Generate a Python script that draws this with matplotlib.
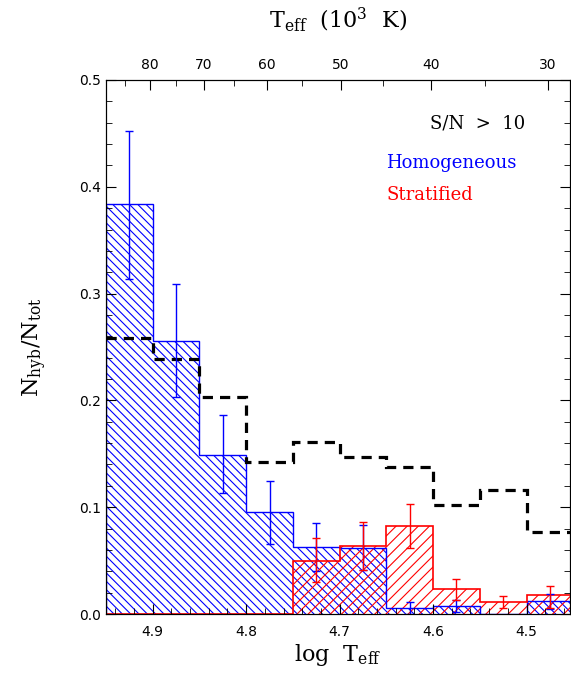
import numpy as np
import matplotlib
matplotlib.use("Agg")
import matplotlib.pyplot as plt
from matplotlib.ticker import MultipleLocator, FixedLocator

# log Teff bin edges (bins of 0.05, hot to cool)
edges = [4.95, 4.90, 4.85, 4.80, 4.75, 4.70, 4.65, 4.60, 4.55, 4.50, 4.45]
centers = [4.925, 4.875, 4.825, 4.775, 4.725, 4.675, 4.625, 4.575, 4.525, 4.475]

homog = [0.384, 0.256, 0.149, 0.0955, 0.0625, 0.062, 0.0056, 0.0075, 0.0, 0.012]
strat = [0.0, 0.0, 0.0, 0.0, 0.050, 0.064, 0.082, 0.023, 0.0115, 0.018]
total = [0.258, 0.239, 0.203, 0.142, 0.161, 0.147, 0.138, 0.102, 0.116, 0.077]

# error bars (lower / upper ends)
homog_err_x = [4.925, 4.875, 4.825, 4.775, 4.725, 4.675, 4.625, 4.575, 4.475]
homog_err_lo = [0.314, 0.203, 0.113, 0.066, 0.040, 0.041, 0.0, 0.002, 0.005]
homog_err_hi = [0.452, 0.309, 0.186, 0.125, 0.085, 0.083, 0.011, 0.013, 0.019]

strat_err_x = [4.725, 4.675, 4.625, 4.575, 4.525, 4.475]
strat_err_lo = [0.030, 0.041, 0.062, 0.013, 0.0056, 0.0056]
strat_err_hi = [0.071, 0.086, 0.103, 0.033, 0.017, 0.026]

teff_major = [80, 70, 60, 50, 40, 30]
teff_minor = [85, 75, 65, 55, 45, 35]

plt.rcParams['hatch.linewidth'] = 0.8
plt.rcParams['mathtext.fontset'] = 'dejavuserif'

fig = plt.figure(figsize=(5.71, 6.89), dpi=100)
ax = fig.add_axes([106/571, 75/689, 464/571, 534/689])

width = edges[1] - edges[0]
# hatched fill only, outline drawn as a step line
ax.bar(centers, homog, width=width, fill=False, edgecolor='blue', hatch='\\' * 4, lw=0)
ax.bar(centers, strat, width=width, fill=False, edgecolor='red', hatch='/' * 3, lw=0)
ax.stairs(homog, edges, baseline=0, color='blue', lw=1.0)
ax.stairs(strat, edges, baseline=0, color='red', lw=1.2)
ax.stairs(total, edges, baseline=None, color='black', ls=(0, (3.2, 2.2)), lw=2.3)

def add_err(xs, lo, hi, col):
    xs = np.array(xs); lo = np.array(lo); hi = np.array(hi)
    mid = (lo + hi) / 2
    ax.errorbar(xs, mid, yerr=[mid - lo, hi - mid], fmt='none', ecolor=col,
                elinewidth=1.0, capsize=3, capthick=1.0)

add_err(homog_err_x, homog_err_lo, homog_err_hi, 'blue')
add_err(strat_err_x, strat_err_lo, strat_err_hi, 'red')

ax.set_xlim(4.95, 4.4535)
ax.set_ylim(0, 0.5)
ax.xaxis.set_major_locator(MultipleLocator(0.1))
ax.xaxis.set_minor_locator(MultipleLocator(0.02))
ax.yaxis.set_major_locator(MultipleLocator(0.1))
ax.yaxis.set_minor_locator(MultipleLocator(0.02))
ax.tick_params(which='both', direction='in', top=False, right=True, labelsize=10)
ax.tick_params(which='major', length=7)
ax.tick_params(which='minor', length=4)
ax.tick_params(axis='x', pad=8)
ax.yaxis.set_major_formatter(plt.FuncFormatter(lambda v, p: f"{v:.1f}"))
ax.xaxis.set_major_formatter(plt.FuncFormatter(lambda v, p: f"{v:.1f}"))

top = ax.twiny()
top.set_xlim(ax.get_xlim())
top.xaxis.set_major_locator(FixedLocator(np.log10(np.array(teff_major) * 1e3)))
top.xaxis.set_minor_locator(FixedLocator(np.log10(np.array(teff_minor) * 1e3)))
top.set_xticklabels([str(t) for t in teff_major])
top.tick_params(which='both', direction='in', labelsize=10, pad=6)
top.tick_params(which='major', length=7)
top.tick_params(which='minor', length=4)

serif = 'DejaVu Serif'
ax.set_xlabel(r'log  T$_{\rm eff}$', fontsize=16, family=serif, labelpad=2)
top.set_xlabel(r'T$_{\rm eff}$  (10$^3$  K)', fontsize=16, family=serif, labelpad=22)
ax.set_ylabel(r'N$_{\rm hyb}$/N$_{\rm tot}$', fontsize=16, family=serif, labelpad=22)

ax.text(525/571, 1 - 123/689, 'S/N  >  10', transform=fig.transFigure, ha='right', va='center',
        fontsize=13, family=serif, color='black')
ax.text(386/571, 1 - 163/689, 'Homogeneous', transform=fig.transFigure, ha='left', va='center',
        fontsize=13, family=serif, color='blue')
ax.text(386/571, 1 - 195/689, 'Stratified', transform=fig.transFigure, ha='left', va='center',
        fontsize=13, family=serif, color='red')

fig.savefig('out.png', dpi=100)
